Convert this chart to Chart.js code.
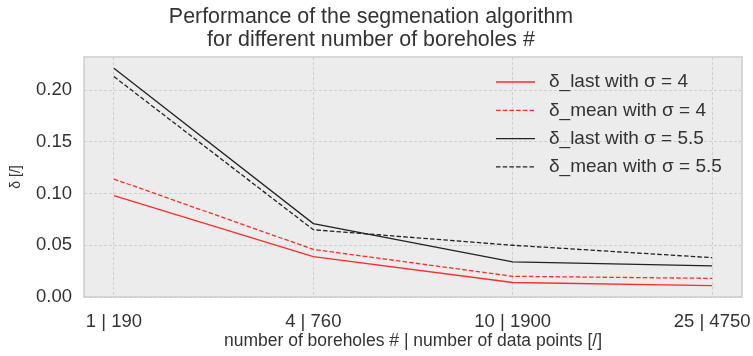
<!DOCTYPE html>
<html>
<head>
<meta charset="utf-8">
<script src="https://cdn.jsdelivr.net/npm/chart.js@4/dist/chart.umd.min.js"></script>
<style>
  html, body { margin: 0; padding: 0; background: #fff; }
  #wrap { width: 753px; height: 356px; }
</style>
</head>
<body>
<div id="wrap"><canvas id="chart"></canvas></div>
<script>
// boreholes | data points
const categories = ['1 | 190', '4 | 760', '10 | 1900', '25 | 4750'];
const lastSigma4    = [0.098, 0.039, 0.014, 0.011];
const meanSigma4    = [0.114, 0.046, 0.020, 0.018];
const lastSigma55   = [0.221, 0.071, 0.034, 0.030];
const meanSigma55   = [0.213, 0.065, 0.050, 0.038];
const yTicks = [0, 0.05, 0.10, 0.15, 0.20];

const FONT = "'Liberation Sans', Arial, sans-serif";
const INK = '#333333';
const RED = '#ff2b2b';
const BLACK = '#222222';
const DASH = [4.5, 2.2];

const pts = arr => arr.map((y, i) => ({ x: i, y }));

// grey panel behind the lines + light frame around it
const panel = {
  id: 'panel',
  beforeDraw(chart) {
    const { ctx, chartArea: a } = chart;
    ctx.save();
    ctx.fillStyle = '#ececec';
    ctx.fillRect(a.left, a.top, a.right - a.left, a.bottom - a.top);
    ctx.restore();
  },
  afterDraw(chart) {
    const { ctx, chartArea: a } = chart;
    ctx.save();
    ctx.strokeStyle = '#cdcdcd';
    ctx.lineWidth = 1.5;
    ctx.strokeRect(a.left, a.top, a.right - a.left, a.bottom - a.top);
    ctx.restore();
  }
};

// legend in the upper right corner of the panel
const innerLegend = {
  id: 'innerLegend',
  afterDatasetsDraw(chart) {
    const { ctx } = chart;
    const x0 = 496, x1 = 535, tx = 549, y0 = 82, dy = 28.3;
    ctx.save();
    ctx.font = '19px ' + FONT;
    ctx.textBaseline = 'middle';
    chart.data.datasets.forEach((ds, i) => {
      const y = y0 + i * dy;
      ctx.strokeStyle = ds.borderColor;
      ctx.lineWidth = ds.borderWidth;
      ctx.setLineDash(ds.borderDash || []);
      ctx.beginPath();
      ctx.moveTo(x0, y);
      ctx.lineTo(x1, y);
      ctx.stroke();
      ctx.setLineDash([]);
      ctx.fillStyle = INK;
      ctx.fillText(ds.label, tx, y);
    });
    ctx.restore();
  }
};

new Chart(document.getElementById('chart'), {
  type: 'line',
  data: {
    datasets: [
      { label: 'δ_last with σ = 4',    data: pts(lastSigma4),  borderColor: RED,   borderWidth: 1.3 },
      { label: 'δ_mean with σ = 4',    data: pts(meanSigma4),  borderColor: RED,   borderWidth: 1.3, borderDash: DASH },
      { label: 'δ_last with σ = 5.5',  data: pts(lastSigma55), borderColor: BLACK, borderWidth: 1.3 },
      { label: 'δ_mean with σ = 5.5',  data: pts(meanSigma55), borderColor: BLACK, borderWidth: 1.3, borderDash: DASH },
    ]
  },
  options: {
    responsive: true, maintainAspectRatio: false, animation: false,
    layout: { padding: { left: 0, right: 11, top: 0, bottom: 0 } },
    elements: { point: { radius: 0 }, line: { tension: 0 } },
    plugins: {
      legend: { display: false },
      tooltip: { enabled: false },
      title: {
        display: true,
        text: ['Performance of the segmenation algorithm', 'for different number of boreholes #'],
        font: { family: FONT, size: 21.4, weight: 'normal', lineHeight: 1.05 }, color: INK,
        padding: { top: 6, bottom: 6 }
      }
    },
    scales: {
      x: {
        type: 'linear', min: -0.15, max: 3.15,
        afterBuildTicks: s => { s.ticks = categories.map((_, i) => ({ value: i })); },
        afterFit: s => { s.height = 59; s.paddingLeft = 0; s.paddingRight = 0; },
        ticks: {
          callback: v => categories[v],
          font: { family: FONT, size: 18.5 }, color: INK, padding: 14, maxRotation: 0
        },
        grid: { color: '#cfcfcf', lineWidth: 1, drawTicks: false },
        border: { display: false, dash: [3, 2] },
        title: {
          display: true, text: 'number of boreholes # | number of data points [/]',
          font: { family: FONT, size: 17.5 }, color: INK, padding: { top: 2, bottom: 4.5 }
        }
      },
      y: {
        min: 0, max: 0.232,
        afterBuildTicks: s => { s.ticks = yTicks.map(v => ({ value: v })); },
        afterFit: s => { s.width = 84; s.paddingTop = 0; s.paddingBottom = 0; },
        ticks: {
          callback: v => v.toFixed(2),
          font: { family: FONT, size: 18.5 }, color: INK, padding: 12
        },
        grid: { color: '#cfcfcf', lineWidth: 1, drawTicks: false },
        border: { display: false, dash: [3, 2] },
        title: {
          display: true, text: 'δ [/]',
          font: { family: FONT, size: 14 }, color: INK, padding: { top: 8, bottom: 0 }
        }
      }
    }
  },
  plugins: [panel, innerLegend]
});
</script>
</body>
</html>
